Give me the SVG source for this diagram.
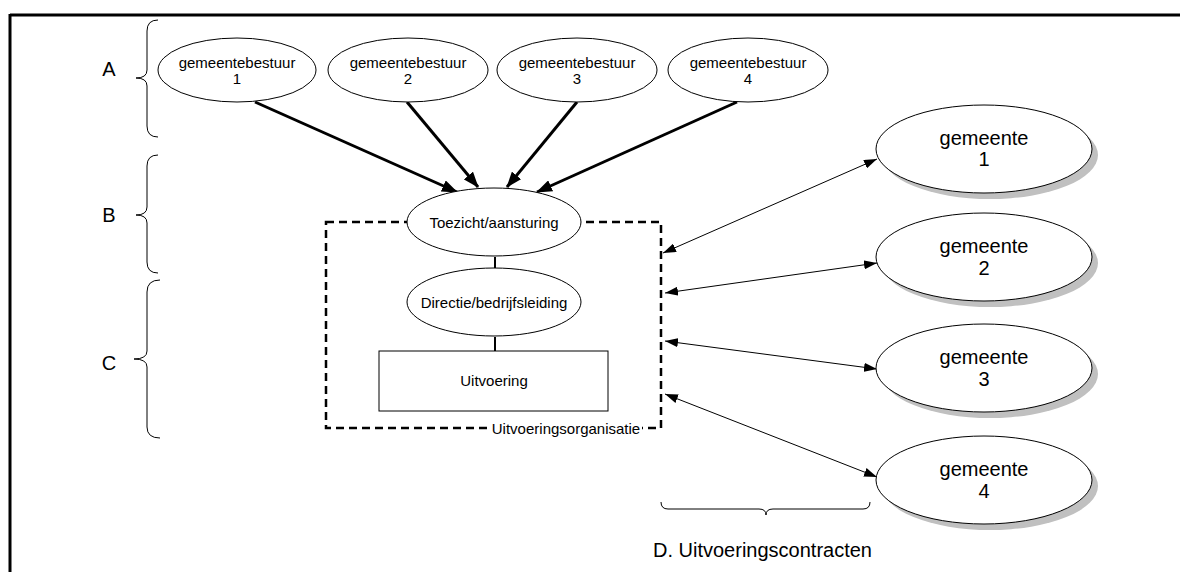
<svg xmlns="http://www.w3.org/2000/svg" width="1185" height="572" viewBox="0 0 1185 572">
<style>
text{font-family:"Liberation Sans",Arial,sans-serif;fill:#000;text-anchor:middle}
.s15{font-size:15px}
.s20{font-size:20px}
.el{fill:#fff;stroke:#000;stroke-width:1}
.sh{fill:#c0c0c0;stroke:none}
.brace{fill:none;stroke:#000;stroke-width:1}
.thick{stroke:#000;stroke-width:3;fill:none}
.thin{stroke:#000;stroke-width:1;fill:none}
.link{stroke:#000;stroke-width:2;fill:none}
</style>
<defs>
<marker id="ah" markerUnits="userSpaceOnUse" markerWidth="16" markerHeight="12" refX="15" refY="6" orient="auto"><path d="M0,0 L16,6 L0,12 z" fill="#000"/></marker>
<marker id="at" markerUnits="userSpaceOnUse" markerWidth="13" markerHeight="9" refX="13" refY="4.5" orient="auto-start-reverse"><path d="M0,0 L13,4.5 L0,9 z" fill="#000"/></marker>
</defs>
<rect width="1185" height="572" fill="#fff"/>
<g id="frame">
<line x1="10" y1="15" x2="1180" y2="15" stroke="#000" stroke-width="3"/>
<line x1="10" y1="14" x2="10" y2="572" stroke="#000" stroke-width="3"/>
</g>
<g id="braces">
<path class="brace" d="M158,20 Q147,20 147,31 L147,70 Q147,78 136,78 Q147,78 147,86 L147,126 Q147,137 158,137"/>
<path class="brace" d="M158,155 Q147,155 147,166 L147,207 Q147,215 136,215 Q147,215 147,223 L147,262 Q147,273 158,273"/>
<path class="brace" d="M160,280 Q147,280 147,292 L147,351 Q147,359 134,359 Q147,359 147,367 L147,427 Q147,438 160,438"/>
<path class="brace" d="M661,502 Q661,509 668,509 L759,509 Q766,509 766,515 Q766,509 773,509 L863,509 Q870,509 870,502"/>
<text class="s20" x="109" y="76">A</text>
<text class="s20" x="109" y="222">B</text>
<text class="s20" x="109" y="370">C</text>
<text class="s20" x="653" y="557" style="text-anchor:start">D. Uitvoeringscontracten</text>
</g>
<g id="connectors">
<line class="thick" x1="255" y1="102" x2="457" y2="192" marker-end="url(#ah)"/>
<line class="thick" x1="407" y1="102" x2="478" y2="187" marker-end="url(#ah)"/>
<line class="thick" x1="577" y1="102" x2="507" y2="187" marker-end="url(#ah)"/>
<line class="thick" x1="737" y1="102" x2="537" y2="192" marker-end="url(#ah)"/>
<line class="link" x1="495" y1="257" x2="495" y2="268"/>
<line class="link" x1="495" y1="337" x2="495" y2="351"/>
<line class="thin" x1="663" y1="253" x2="877" y2="159" marker-start="url(#at)" marker-end="url(#at)"/>
<line class="thin" x1="665" y1="293" x2="877" y2="263" marker-start="url(#at)" marker-end="url(#at)"/>
<line class="thin" x1="665" y1="341" x2="877" y2="369" marker-start="url(#at)" marker-end="url(#at)"/>
<line class="thin" x1="665" y1="394" x2="877" y2="477" marker-start="url(#at)" marker-end="url(#at)"/>
</g>
<g id="uitvoeringsorganisatie">
<rect x="326" y="222" width="335" height="206" fill="none" stroke="#000" stroke-width="2.5" stroke-dasharray="8,5"/>
<rect x="487" y="424" width="155" height="14" fill="#fff"/>
<text class="s15" x="566" y="434">Uitvoeringsorganisatie</text>
</g>
<g id="gb1"><ellipse class="el" cx="237" cy="70" rx="79" ry="32"/><text class="s15" x="237" y="68">gemeentebestuur</text><text class="s15" x="237" y="84">1</text></g>
<g id="gb2"><ellipse class="el" cx="408" cy="70" rx="80" ry="32"/><text class="s15" x="408" y="68">gemeentebestuur</text><text class="s15" x="408" y="84">2</text></g>
<g id="gb3"><ellipse class="el" cx="577" cy="70" rx="80" ry="32"/><text class="s15" x="577" y="68">gemeentebestuur</text><text class="s15" x="577" y="84">3</text></g>
<g id="gb4"><ellipse class="el" cx="748" cy="70" rx="80" ry="32"/><text class="s15" x="748" y="68">gemeentebestuur</text><text class="s15" x="748" y="84">4</text></g>
<g id="toezicht"><ellipse class="el" cx="494" cy="222" rx="87" ry="34"/><text class="s15" x="494" y="228">Toezicht/aansturing</text></g>
<g id="directie"><ellipse class="el" cx="494" cy="302" rx="87" ry="34"/><text class="s15" x="494" y="308">Directie/bedrijfsleiding</text></g>
<g id="uitvoering"><rect x="379" y="351" width="229" height="60" fill="#fff" stroke="#000" stroke-width="1"/><text class="s15" x="494" y="386">Uitvoering</text></g>
<g id="g1"><ellipse class="sh" cx="990" cy="155" rx="108" ry="44"/><ellipse class="el" cx="984" cy="149" rx="108" ry="44"/><text class="s20" x="984" y="145">gemeente</text><text class="s20" x="984" y="166">1</text></g>
<g id="g2"><ellipse class="sh" cx="990" cy="263" rx="108" ry="44"/><ellipse class="el" cx="984" cy="257" rx="108" ry="44"/><text class="s20" x="984" y="253">gemeente</text><text class="s20" x="984" y="275">2</text></g>
<g id="g3"><ellipse class="sh" cx="990" cy="374" rx="108" ry="44"/><ellipse class="el" cx="984" cy="368" rx="108" ry="44"/><text class="s20" x="984" y="364">gemeente</text><text class="s20" x="984" y="386">3</text></g>
<g id="g4"><ellipse class="sh" cx="990" cy="486" rx="108" ry="44"/><ellipse class="el" cx="984" cy="480" rx="108" ry="44"/><text class="s20" x="984" y="476">gemeente</text><text class="s20" x="984" y="498">4</text></g>
</svg>
